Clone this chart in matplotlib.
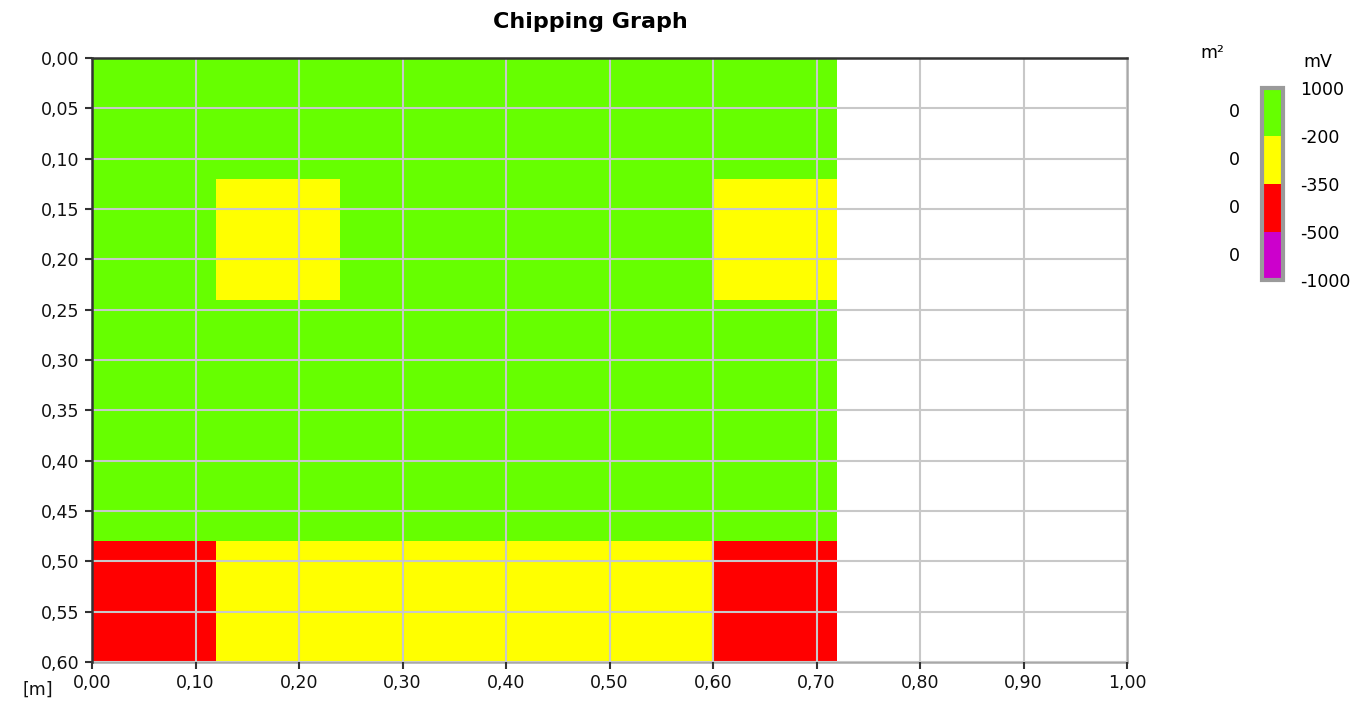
import numpy as np
import matplotlib
matplotlib.use("Agg")
import matplotlib.pyplot as plt
from matplotlib.colors import ListedColormap, BoundaryNorm
from matplotlib.cm import ScalarMappable
from matplotlib.ticker import FuncFormatter, MultipleLocator

# cell edges in metres
x_edges = [0.0, 0.12, 0.24, 0.36, 0.48, 0.60, 0.72]
y_edges = [0.0, 0.12, 0.24, 0.36, 0.48, 0.60]

# potential class per cell (0: >-200, 1: -350..-200, 2: -500..-350, 3: <-500)
cell_class = [
    [0, 0, 0, 0, 0, 0],
    [0, 1, 0, 0, 0, 1],
    [0, 0, 0, 0, 0, 0],
    [0, 0, 0, 0, 0, 0],
    [2, 1, 1, 1, 1, 2],
]

# legend
class_colors = ["#66ff00", "#ffff00", "#ff0000", "#cc00cc"]
mv_bounds = [-1000, -500, -350, -200, 1000]
area_m2 = [0, 0, 0, 0]  # top to bottom

comma = FuncFormatter(lambda v, p: ("%.2f" % v).replace(".", ","))

fig = plt.figure(figsize=(13.61, 7.08), dpi=100)
ax = fig.add_axes([92 / 1361, 1 - 662 / 708, (1127 - 92) / 1361, (662 - 58) / 708])

cmap = ListedColormap(class_colors)
ax.pcolormesh(x_edges, y_edges, np.array(cell_class), cmap=cmap, vmin=-0.5, vmax=3.5, zorder=1)

ax.set_xlim(0, 1.0)
ax.set_ylim(0.60, 0.0)
ax.xaxis.set_major_locator(MultipleLocator(0.10))
ax.yaxis.set_major_locator(MultipleLocator(0.05))
ax.xaxis.set_major_formatter(comma)
ax.yaxis.set_major_formatter(comma)
ax.grid(True, color="#c8c8c8", linewidth=1.5, zorder=2)
ax.set_axisbelow(False)
ax.tick_params(direction="out", length=5, width=1.5, color="#333333", labelsize=12.5, labelcolor="#111111", pad=4)

for s in ["top", "left"]:
    ax.spines[s].set_color("#333333")
    ax.spines[s].set_linewidth(1.8)
    ax.spines[s].set_zorder(3)
for s in ["right", "bottom"]:
    ax.spines[s].set_color("#a8a8a8")
    ax.spines[s].set_linewidth(1.8)

fig.text(590 / 1361, 1 - 22 / 708, "Chipping Graph", ha="center", va="center",
         fontsize=16, fontweight="bold")
fig.text(38 / 1361, 1 - 690 / 708, "[m]", ha="center", va="center", fontsize=12.5, color="#111111")

# colour legend (lowest class at the bottom)
cax = fig.add_axes([1262 / 1361, 1 - 280 / 708, 21 / 1361, 192 / 708])
norm = BoundaryNorm(mv_bounds, 4)
sm = ScalarMappable(norm=norm, cmap=ListedColormap(class_colors[::-1]))
cb = fig.colorbar(sm, cax=cax, spacing="uniform", ticks=mv_bounds)
cb.outline.set_edgecolor("#9a9a9a")
cb.outline.set_linewidth(3)
cax.tick_params(length=0, labelsize=12.5, pad=12)
cb.set_ticklabels([str(b) for b in mv_bounds])

for i, a in enumerate(area_m2):
    cax.text(-1.05, 1 - (i + 0.5) / 4, str(a), transform=cax.transAxes,
             ha="right", va="center", fontsize=12.5)
fig.text(1318 / 1361, 1 - 62 / 708, "mV", ha="center", va="center", fontsize=12.5)
fig.text(1212 / 1361, 1 - 53 / 708, "m²", ha="center", va="center", fontsize=12.5)

fig.savefig("out.png", dpi=100)
